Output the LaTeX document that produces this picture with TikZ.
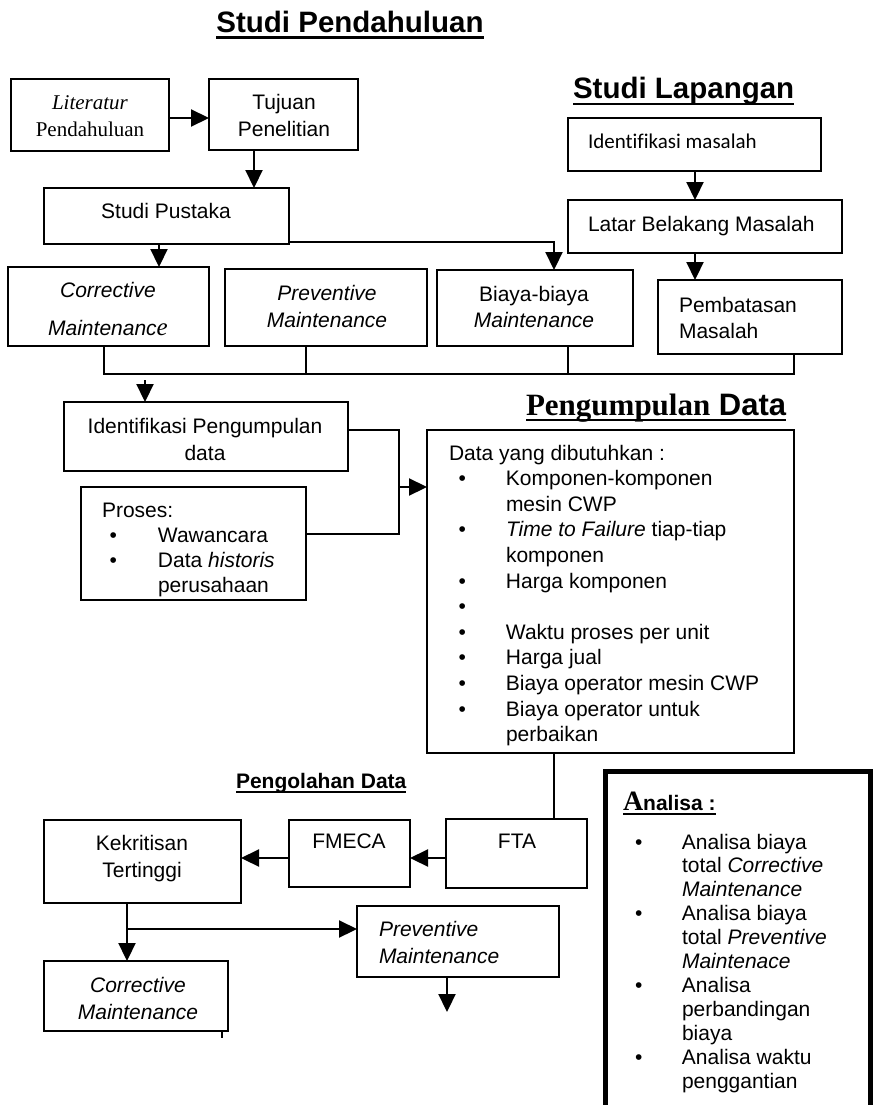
\documentclass[tikz,border=0pt]{standalone}
\usepackage{fontspec}
\setmainfont{Liberation Sans}
\newfontfamily\serifF{Liberation Serif}
\newfontfamily\calibriF[Ligatures=NoCommon]{Carlito}
\usetikzlibrary{arrows.meta}
\newcommand\mylines[2]{\begin{tabular}[t]{@{}#1@{}}#2\end{tabular}}
\newcommand\mybul[2]{\makebox[#1][l]{\hspace*{#2}\textbullet}}
\newcommand\mybox[5]{\node[bx, minimum width={#4-#2}, minimum height={#5-#3}] (#1) at ({(#2+#4)/2},{(#3+#5)/2}) {};}
\tikzset{
  bx/.style={draw, line width=1.6pt, inner sep=0pt, outer sep=0pt},
  con/.style={line width=2.2pt},
  arr/.style={con, -{Triangle[length=18pt,width=17pt]}},
  tc/.style={inner sep=0pt, outer sep=0pt, anchor=base, font=\fontsize{21}{27}\selectfont},
  tw/.style={tc, anchor=base west},
}
\begin{document}
\begin{tikzpicture}[x=1pt,y=-1pt]
\useasboundingbox (0,0) rectangle (873,1105);
\fill[white] (0,0) rectangle (873,1105);

% ---------- titles ----------
\node[tc, font=\fontsize{29.5}{34}\selectfont\bfseries] (tA) at (350,33) {Studi Pendahuluan};
\draw[line width=3pt] ([yshift=-5pt]tA.base west) -- ([yshift=-5pt]tA.base east);
\node[tw, font=\fontsize{29.5}{34}\selectfont\bfseries] (tB) at (573,99) {Studi Lapangan};
\draw[line width=2.5pt] ([yshift=-5pt]tB.base west) -- ([yshift=-5pt]tB.base east);
\node[tw, font=\fontsize{31}{34}\selectfont\bfseries] (tC) at (526,415) {{\serifF Pengumpulan} Data};
\draw[line width=2pt] ([yshift=-5pt]tC.base west) -- ([yshift=-5pt]tC.base east);
\node[tw, font=\fontsize{21}{24}\selectfont\bfseries] (tD) at (236,788) {Pengolahan Data};
\draw[line width=1.5pt] ([yshift=-4pt]tD.base west) -- ([yshift=-4pt]tD.base east);

% ---------- boxes ----------
\mybox{lit}{11}{79}{169}{151}
\mybox{tuj}{209}{79}{358}{150}
\mybox{sp}{44}{188}{289}{244}
\mybox{corr1}{8}{267}{209}{346}
\mybox{prev1}{225}{269}{427}{346}
\mybox{biaya}{437}{270}{633}{346}
\mybox{idm}{568}{118}{821}{171}
\mybox{lbm}{568}{200}{842}{253}
\mybox{pem}{658}{280}{842}{354}
\mybox{idp}{64}{402}{348}{471}
\mybox{proses}{81}{487}{306}{600}
\mybox{data}{427}{430}{794}{753}
\mybox{fta}{446}{819}{587}{888}
\mybox{fmeca}{289}{820}{410}{887}
\mybox{kek}{44}{820}{241}{903}
\mybox{prev2}{357}{906}{559}{977}
\mybox{corr2}{44}{961}{228}{1031}
\node[draw, line width=5pt, inner sep=0pt, minimum width=265pt, minimum height=380pt] (ana) at (737.5,961) {};

% ---------- texts ----------
\node[tc, font=\fontsize{21}{27}\serifF] (tLit) at (90,110) {\mylines{c}{\textit{Literatur}\\Pendahuluan}};
\node[tc] (tTuj) at (284,110) {\mylines{c}{Tujuan\\Penelitian}};
\node[tc] (tSp) at (166,218) {Studi Pustaka};
\node[tc] (tCorr1) at (108,297) {\mylines{c}{\textit{Corrective}\\[11pt]\textit{Maintenanc}{\fontsize{25}{27}\serifF\itshape e}}};
\node[tc] (tPrev1) at (327,300) {\mylines{c}{\textit{Preventive}\\\textit{Maintenance}}};
\node[tc, font=\fontsize{21}{26}\selectfont] (tBiaya) at (534,301) {\mylines{c}{Biaya-biaya\\\textit{Maintenance}}};
\node[tw, font=\fontsize{21}{26}\calibriF] (tIdm) at (588,149) {Identifikasi masalah};
\node[tw] (tLbm) at (588,231) {Latar Belakang Masalah};
\node[tw, font=\fontsize{21}{26}\selectfont] (tPem) at (679,312) {\mylines{l}{Pembatasan\\Masalah}};
\node[tc] (tIdp) at (205,433) {\mylines{c}{Identifikasi Pengumpulan\\data}};
\node[tw, font=\fontsize{21}{25.3}\selectfont] (tPro) at (102,517) {\mylines{l}{Proses:\\
\mybul{56pt}{7.5pt}Wawancara\\
\mybul{56pt}{7.5pt}Data \textit{historis}\\
\hspace*{56pt}perusahaan}};
\node[tw, font=\fontsize{21}{25.6}\selectfont] (tData) at (449,460) {\mylines{l}{Data yang dibutuhkan :\\
\mybul{57pt}{9.5pt}Komponen-komponen\\
\hspace*{57pt}mesin CWP\\
\mybul{57pt}{9.5pt}\textit{Time to Failure} tiap-tiap\\
\hspace*{57pt}komponen\\
\mybul{57pt}{9.5pt}Harga komponen\\
\mybul{57pt}{9.5pt}\\
\mybul{57pt}{9.5pt}Waktu proses per unit\\
\mybul{57pt}{9.5pt}Harga jual\\
\mybul{57pt}{9.5pt}Biaya operator mesin CWP\\
\mybul{57pt}{9.5pt}Biaya operator untuk\\
\hspace*{57pt}perbaikan}};
\node[tc] (tFta) at (517,848) {FTA};
\node[tc] (tFmeca) at (349,848) {FMECA};
\node[tc] (tKek) at (142,850) {\mylines{c}{Kekritisan\\Tertinggi}};
\node[tw] (tPrev2) at (379,936) {\mylines{l}{\textit{Preventive}\\\textit{Maintenance}}};
\node[tc] (tCorr2) at (138,992) {\mylines{c}{\textit{Corrective}\\\textit{Maintenance}}};
\node[tw, font=\fontsize{21}{24}\selectfont\bfseries] (tAna) at (623,810) {{\fontsize{28}{30}\serifF\bfseries A}nalisa :};
\draw[line width=1.5pt] ([yshift=-4pt]tAna.base west) -- ([yshift=-4pt]tAna.base east);
\node[tw, font=\fontsize{21}{23.9}\selectfont] (tAnaL) at (635,849) {\mylines{l}{%
\mybul{47pt}{0pt}Analisa biaya\\
\hspace*{47pt}total \textit{Corrective}\\
\hspace*{47pt}\textit{Maintenance}\\
\mybul{47pt}{0pt}Analisa biaya\\
\hspace*{47pt}total \textit{Preventive}\\
\hspace*{47pt}\textit{Maintenace}\\
\mybul{47pt}{0pt}Analisa\\
\hspace*{47pt}perbandingan\\
\hspace*{47pt}biaya\\
\mybul{47pt}{0pt}Analisa waktu\\
\hspace*{47pt}penggantian}};

% ---------- connector helpers ----------
\coordinate (c1) at (0,118);
\coordinate (c2) at (254,0);
\coordinate (c3) at (159,0);
\coordinate (c4) at (554,242);
\coordinate (c5) at (695,0);
\coordinate (c6) at (104,374);
\coordinate (c7) at (794,374);
\coordinate (c8) at (306,374);
\coordinate (c9) at (568,374);
\coordinate (c10) at (145,380);
\coordinate (c11) at (399,430);
\coordinate (c12) at (399,487);
\coordinate (c13) at (399,534);
\coordinate (c14) at (554,0);
\coordinate (c15) at (0,858);
\coordinate (c16) at (127,929);
\coordinate (c17) at (447,1012);
\coordinate (c18) at (222,1038);

% ---------- connectors ----------
\draw[arr] (lit.east |- c1) -- (tuj.west |- c1);
\draw[arr] (tuj.south -| c2) -- (sp.north -| c2);
\draw[arr] (sp.south -| c3) -- (corr1.north -| c3);
\draw[arr] (sp.east |- c4) -- (c4) -- (biaya.north -| c4);
\draw[arr] (idm.south -| c5) -- (lbm.north -| c5);
\draw[arr] (lbm.south -| c5) -- (pem.north -| c5);
\draw[con] (corr1.south -| c6) -- (c6) -- (c7) -- (pem.south -| c7);
\draw[con] (prev1.south -| c8) -- (c8);
\draw[con] (biaya.south -| c9) -- (c9);
\draw[arr] (c10) -- (idp.north -| c10);
\draw[con] (idp.east |- c11) -- (c11) -- (c12);
\draw[con] (proses.east |- c13) -- (c13) -- (c12);
\draw[arr] (c12) -- (data.west |- c12);
\draw[con] (data.south -| c14) -- (fta.north -| c14);
\draw[arr] (fta.west |- c15) -- (fmeca.east |- c15);
\draw[arr] (fmeca.west |- c15) -- (kek.east |- c15);
\draw[arr] (kek.south -| c16) -- (corr2.north -| c16);
\draw[arr] (c16) -- (prev2.west |- c16);
\draw[arr] (prev2.south -| c17) -- (c17);
\draw[line width=1.5pt] (corr2.south -| c18) -- (c18);
\end{tikzpicture}
\end{document}
